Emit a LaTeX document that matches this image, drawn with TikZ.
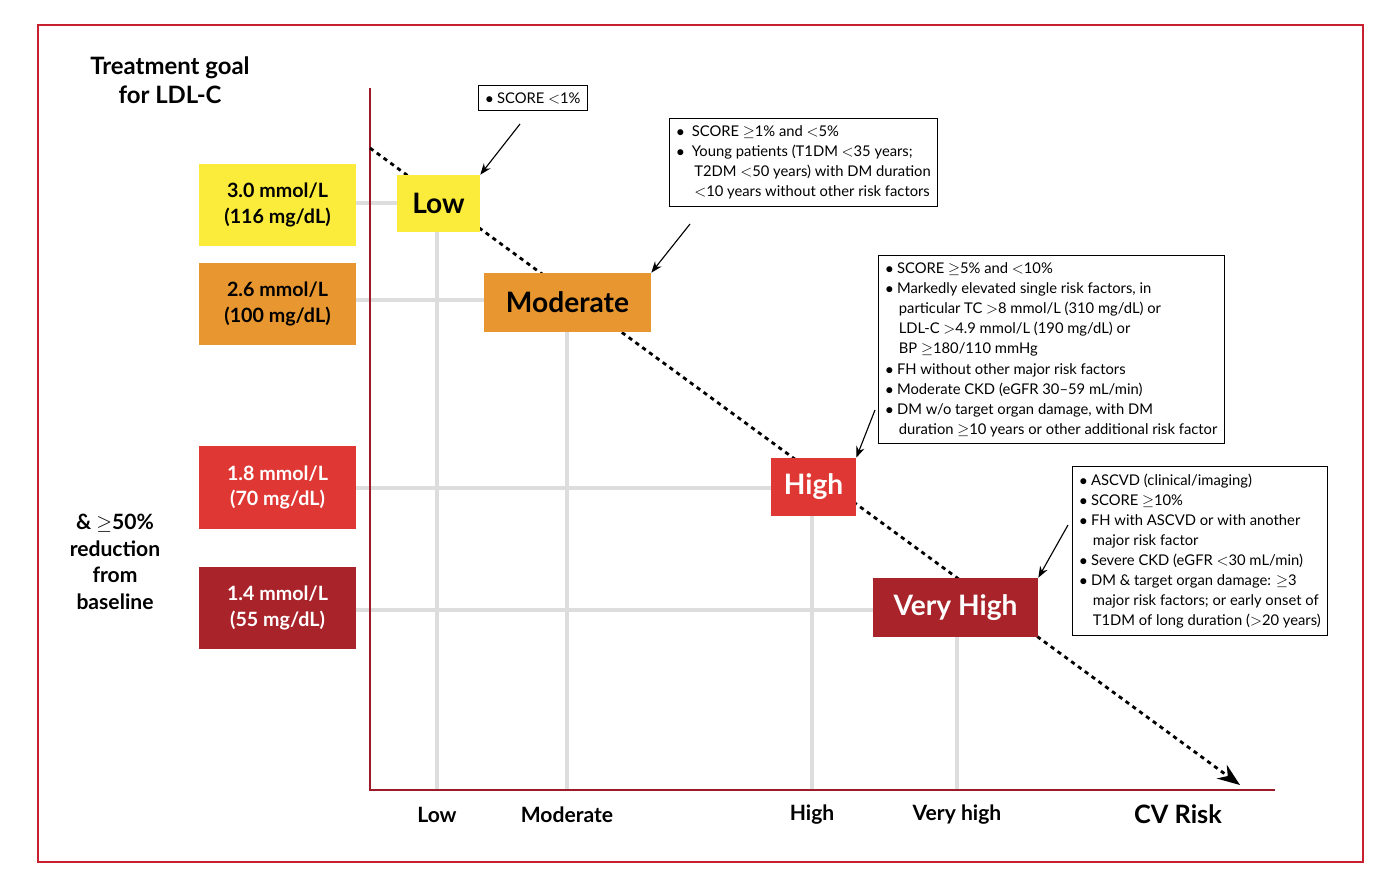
\documentclass[tikz,border=0pt]{standalone}
\usepackage{fontspec}
\setmainfont{Lato}
\usetikzlibrary{arrows.meta}
\definecolor{cYel}{HTML}{FBEB3B}
\definecolor{cOra}{HTML}{E8962F}
\definecolor{cRed}{HTML}{DF3834}
\definecolor{cDrk}{HTML}{A8232A}
\definecolor{cFrm}{HTML}{C8202F}
\definecolor{cAx}{HTML}{9B1B2A}
\definecolor{cGrd}{HTML}{DDDDDD}
\tikzset{
  lvl/.style={draw=none,inner sep=0pt,font=\fontsize{20}{24}\selectfont\bfseries},
  goal/.style={draw=none,inner sep=0pt,minimum width=3.925cm,minimum height=2.05cm,align=center,font=\fontsize{14}{18}\selectfont},
  note/.style={draw,thick,inner sep=5pt,anchor=north west,align=left,font=\fontsize{10.5}{14.3}\selectfont},
  grid/.style={cGrd,line width=2.5pt},
  call/.style={-{Stealth[length=8pt]},thick},
  axl/.style={font=\fontsize{15}{18}\selectfont}
}
\begin{document}
\begin{tikzpicture}[x=0.025cm,y=-0.025cm]
			% Rahmen
			\useasboundingbox (0,0) rectangle (1389,890);
			\draw[cFrm,line width=1.5pt] (38,25) rectangle (1363,862);
	
			% Gitter
			\draw[grid] (356,203) -- (397,203);
			\draw[grid] (356,300) -- (484,300);
			\draw[grid] (356,488) -- (771,488);
			\draw[grid] (356,610) -- (873,610);
			\draw[grid] (437,232) -- (437,790);
			\draw[grid] (567,332) -- (567,790);
			\draw[grid] (812,516) -- (812,790);
			\draw[grid] (957,637) -- (957,790);
			
			% Achsen
			\coordinate (ytop) at (370,88);
			\coordinate (orig) at (370,790);
			\coordinate (xend) at (1275,790);
			\draw[cAx,line width=2pt] (ytop) -- (orig) -- (xend);
			\coordinate (dstart) at (370,148);
			\coordinate (dend) at (1240,785);
			\draw[line width=2pt,dashed,-{Stealth[length=16pt,width=12pt]}] (dstart) -- (dend);
			
			% Stufen
			\node[lvl,fill=cYel,minimum width=2.075cm,minimum height=1.425cm] (nlow) at (438.5,203.5) {Low};
			\node[lvl,fill=cOra,minimum width=4.175cm,minimum height=1.475cm] (nmod) at (567.5,302.5) {Moderate};
			\node[lvl,fill=cRed,text=white,minimum width=2.125cm,minimum height=1.45cm] (nhigh) at (813.5,487) {High};
			\node[lvl,fill=cDrk,text=white,minimum width=4.125cm,minimum height=1.475cm] (nvhigh) at (955.5,607.5) {Very High};
			
			% Ziele
			\node[goal,fill=cYel] (g30) at (277.5,205) {\textbf{3.0 mmol/L}\\\textbf{(116 mg/dL)}};
			\node[goal,fill=cOra] (g26) at (277.5,304) {\textbf{2.6 mmol/L}\\\textbf{(100 mg/dL)}};
			\node[goal,fill=cRed,text=white] (g18) at (277.5,487.5) {\textbf{1.8 mmol/L}\\\textbf{(70 mg/dL)}};
			\node[goal,fill=cDrk,text=white] (g14) at (277.5,608) {\textbf{1.4 mmol/L}\\\textbf{(55 mg/dL)}};
			
			% Titel
			\node[align=center,font=\fontsize{17}{21}\selectfont\bfseries] (ttl) at (170,80) {Treatment goal\\for LDL-C};
			\node[align=center,font=\fontsize{15}{19}\selectfont\bfseries] (red) at (115,562) {\& $\geq$50\%\\reduction\\from\\baseline};
			
			% Achsenbeschriftung
			\node[axl] (xlow) at (437,815) {\textbf{Low}};
			\node[axl] (xmod) at (567,815) {\textbf{Moderate}};
			\node[axl] (xhigh) at (812,815) {\textbf{High}};
			\node[axl] (xvh) at (957,815) {\textbf{Very high}};
			\node[font=\fontsize{18}{22}\selectfont\bfseries] (xcv) at (1178,814) {CV Risk};
			
			% Hinweise
			\node[note] (b1) at (478,85) {$\bullet$ SCORE $<$1\%};
			\node[note] (b2) at (669,118) {$\bullet$\ \ SCORE $\geq$1\% and $<$5\%\\
				$\bullet$\ \ Young patients (T1DM $<$35 years;\\
				\hspace*{1.2em}T2DM $<$50 years) with DM duration\\
				\hspace*{1.2em}$<$10 years without other risk factors};
			\node[note] (b3) at (878,255) {$\bullet$ SCORE $\geq$5\% and $<$10\%\\
				$\bullet$ Markedly elevated single risk factors, in\\
				\hspace*{0.9em}particular TC $>$8 mmol/L (310 mg/dL) or\\
				\hspace*{0.9em}LDL-C $>$4.9 mmol/L (190 mg/dL) or\\
				\hspace*{0.9em}BP $\geq$180/110 mmHg\\
				$\bullet$ FH without other major risk factors\\
				$\bullet$ Moderate CKD (eGFR 30--59 mL/min)\\
				$\bullet$ DM w/o target organ damage, with DM\\
				\hspace*{0.9em}duration $\geq$10 years or other additional risk factor};
			\node[note] (b4) at (1072,466) {$\bullet$ ASCVD (clinical/imaging)\\
				$\bullet$ SCORE $\geq$10\%\\
				$\bullet$ FH with ASCVD or with another\\
				\hspace*{0.9em}major risk factor\\
				$\bullet$ Severe CKD (eGFR $<$30 mL/min)\\
				$\bullet$ DM \& target organ damage: $\geq$3\\
				\hspace*{0.9em}major risk factors; or early onset of\\
				\hspace*{0.9em}T1DM of long duration ($>$20 years)};
			
			% Pfeile
			\draw[call] (520,124) -- (nlow.north east);
			\draw[call] (690,224) -- (nmod.north east);
			\draw[call] (875,410) -- (nhigh.north east);
			\draw[call] (1068,525) -- (nvhigh.north east);
		\end{tikzpicture}
\end{document}
